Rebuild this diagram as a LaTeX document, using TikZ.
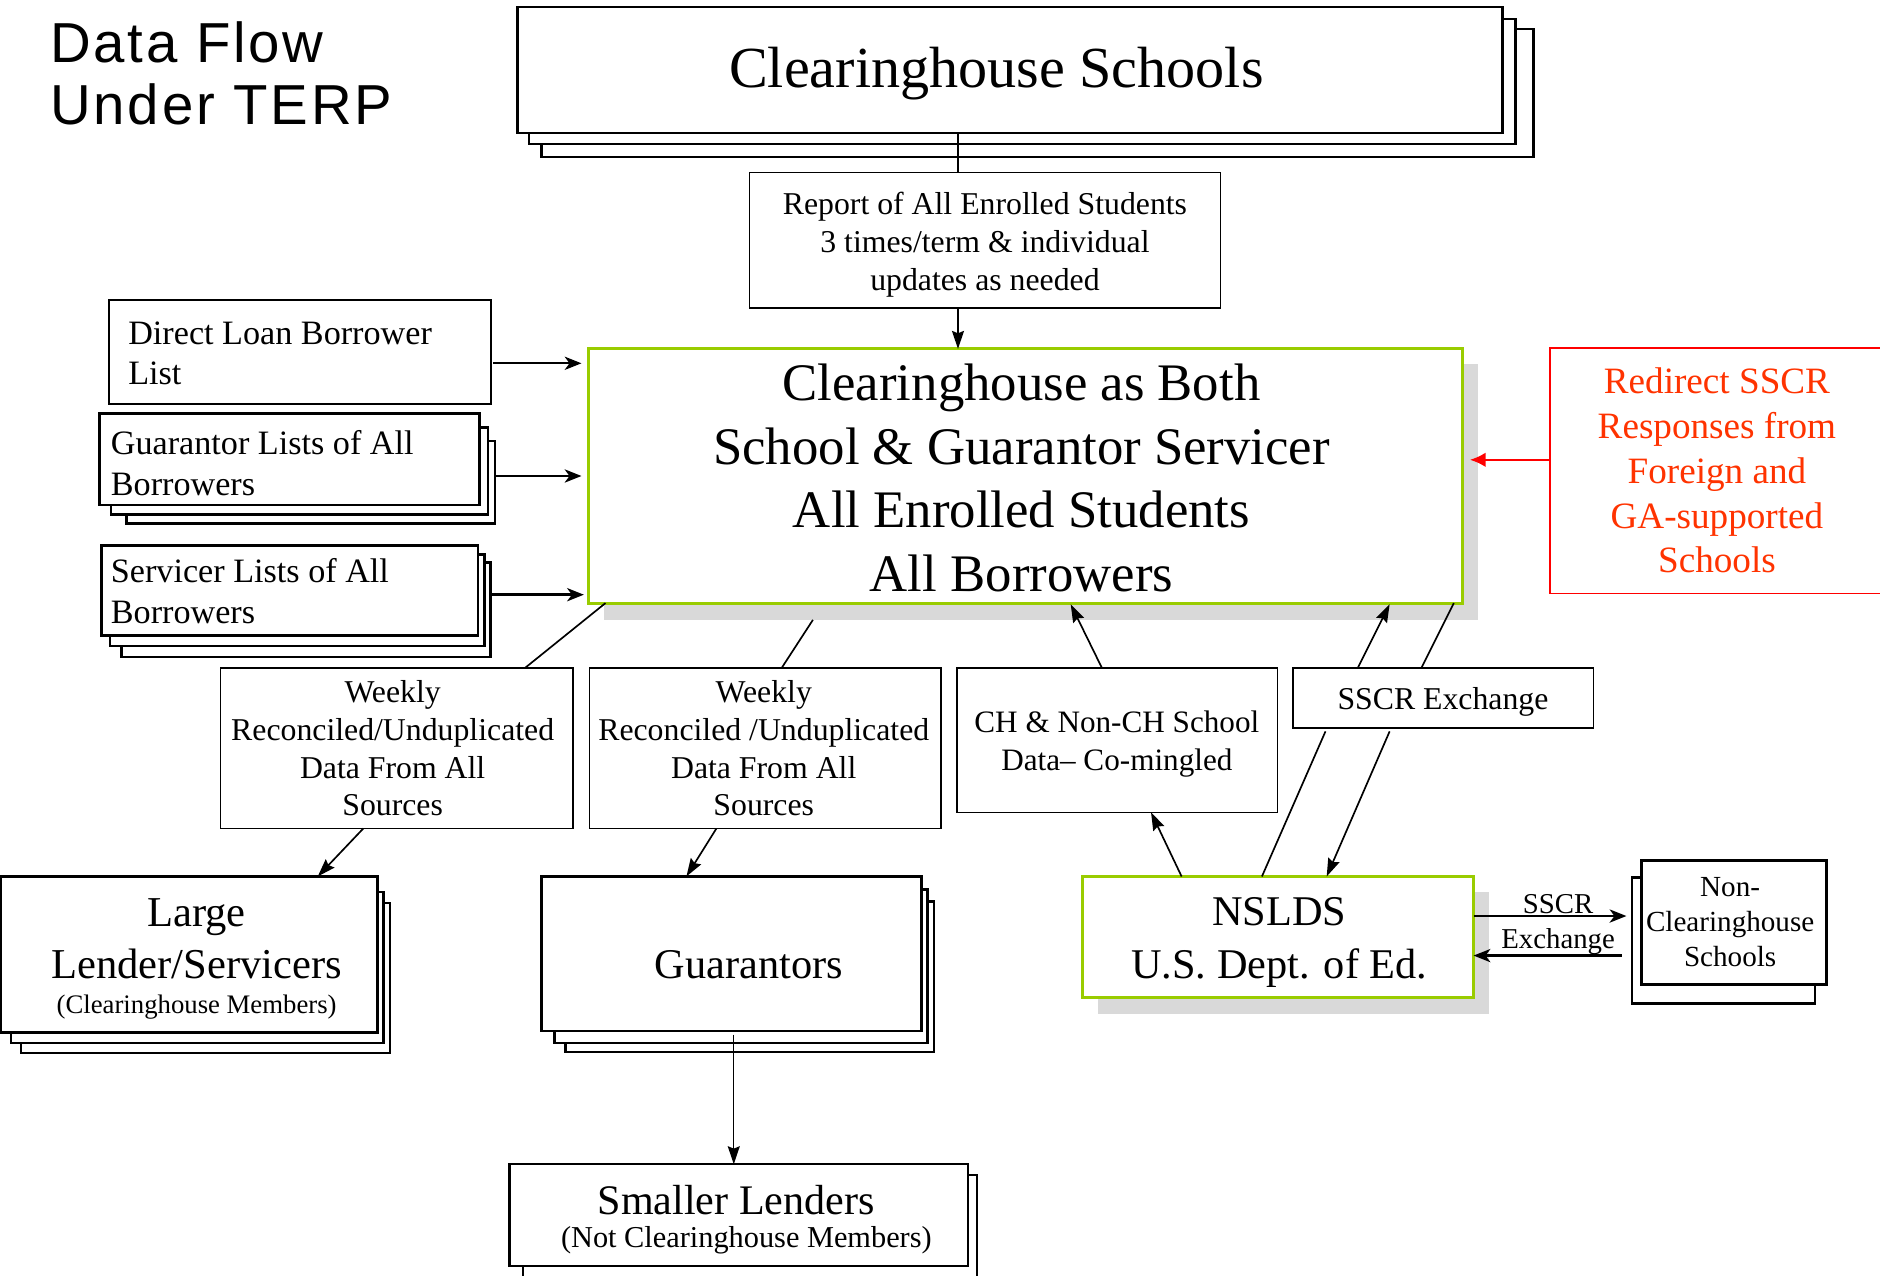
\documentclass[tikz,border=0pt]{standalone}
\usepackage{fontspec}
\setmainfont{Liberation Serif}
\newfontfamily\titlefont[LetterSpace=5]{Liberation Sans}
\usetikzlibrary{calc,arrows.meta}
\definecolor{lgreen}{RGB}{153,204,0}
\definecolor{shade}{RGB}{217,217,217}
\definecolor{redtxt}{RGB}{255,51,0}
\newcommand\fsz[2]{\fontsize{#1}{#2}\selectfont}
\newcommand\rbox[6]{\node[#1, minimum width={#4-#2}, minimum height={#5-#3}] (#6) at ({(#2+#4)/2},{(#3+#5)/2}) {};}
\tikzset{
  heavybox/.style={draw, fill=white, line width=2pt, inner sep=0pt, outer sep=0pt},
  thinbox/.style={draw, fill=white, line width=1.3pt, inner sep=0pt, outer sep=0pt},
  greenbox/.style={draw=lgreen, fill=white, line width=2.5pt, inner sep=0pt, outer sep=0pt},
  redbox/.style={draw=red, fill=white, line width=1.5pt, inner sep=0pt, outer sep=0pt},
  layer/.style={draw, fill=white, line width=2pt},
  shadowbox/.style={fill=shade},
  conn/.style={line width=1.4pt},
  arr/.style={conn, -{Stealth[length=15pt,width=10pt,inset=2pt]}},
  sidearr/.style={line width=2pt, -{Stealth[length=14pt,width=11pt,inset=4pt]}},
  redarr/.style={draw=red, line width=1.5pt, -{Latex[length=13pt,width=12pt]}, red},
  txt/.style={inner sep=0pt, outer sep=0pt}
}
\begin{document}
\begin{tikzpicture}[x=1pt,y=-1pt]
\useasboundingbox (0,0) rectangle (1568,1064);
\fill[white] (0,0) rectangle (1568,1064);

% title (anchor = baseline of last line)
\node[txt, anchor=base west, align=left, font=\titlefont\fsz{47}{52}] (title) at (42,104) {Data Flow\\Under TERP};

% Clearinghouse Schools (stacked)
\draw[layer] (451.5,24) rectangle (1279,131);
\draw[layer] (441,16) rectangle (1264,120);
\rbox{heavybox}{431.5}{6}{1253}{111}{chs}
\node[txt, anchor=base, font=\fsz{48.5}{58}] (chst) at (831,73) {Clearinghouse Schools};

% report box
\rbox{thinbox}{625}{144}{1018}{257}{report}
\node[txt, anchor=base, align=center, font=\fsz{26.5}{31.5}] (reportt) at (821.5,242) {Report of All Enrolled Students\\3 times/term \& individual\\updates as needed};

% main box
\fill[shadowbox] (504,304) rectangle (1233,517);
\rbox{greenbox}{491}{291}{1220}{503}{main}
\node[txt, anchor=base, align=center, font=\fsz{44}{53}] (maint) at (852,493) {Clearinghouse as Both\\School \& Guarantor Servicer\\All Enrolled Students\\All Borrowers};

% Direct loan
\rbox{heavybox}{91}{250}{409.5}{337}{dl}
\node[txt, anchor=base west, align=left, font=\fsz{28.5}{34}] (dlt) at (107,321) {Direct Loan Borrower\\List};

% Guarantor lists
\draw[layer] (105.5,368) rectangle (413,436.6);
\draw[layer] (92.5,356.6) rectangle (407,429);
\rbox{heavybox}{83}{345}{400}{421}{gl}
\node[txt, anchor=base west, align=left, font=\fsz{28.5}{34}] (glt) at (92.5,413) {Guarantor Lists of All\\Borrowers};

% Servicer lists
\draw[layer] (101.5,469) rectangle (409,548);
\draw[layer] (91.5,462.5) rectangle (404,539);
\rbox{heavybox}{84.5}{455}{398.5}{530}{sl}
\node[txt, anchor=base west, align=left, font=\fsz{28.5}{34}] (slt) at (92.5,520) {Servicer Lists of All\\Borrowers};

% red box
\rbox{redbox}{1292.5}{290.5}{1580}{495}{red}
\node[txt, anchor=base, align=center, text=redtxt, font=\fsz{31}{37.3}] (redt) at (1432,477.8) {Redirect SSCR\\Responses from\\Foreign and\\GA-supported\\Schools};

% weekly boxes
\rbox{thinbox}{184}{557}{478}{691}{wk1}
\node[txt, anchor=base, align=center, font=\fsz{26.5}{31.5}] (wk1t) at (327.5,680.5) {Weekly\\Reconciled/Unduplicated\\Data From All\\Sources};
\rbox{thinbox}{491.5}{557}{785}{691}{wk2}
\node[txt, anchor=base, align=center, font=\fsz{26.5}{31.5}] (wk2t) at (637,680.5) {Weekly\\Reconciled /Unduplicated\\Data From All\\Sources};

% CH & Non-CH
\rbox{thinbox}{798}{557}{1065.5}{677.5}{chnon}
\node[txt, anchor=base, align=center, font=\fsz{26}{32}] (chnont) at (931.5,643) {CH \& Non-CH School\\Data– Co-mingled};

% SSCR exchange
\rbox{thinbox}{1078.5}{557}{1329}{607}{sscr}
\node[txt, anchor=base, font=\fsz{26.5}{32}] (sscrt) at (1203.5,592) {SSCR Exchange};

% Large lender
\draw[layer] (17.5,753) rectangle (325.5,878);
\draw[layer] (9,744) rectangle (320,870);
\rbox{heavybox}{1}{731}{315}{861}{large}
\node[txt, anchor=base, align=center, font=\fsz{35.5}{43.3}] (larget) at (164,816) {Large\\Lender/Servicers};
\node[txt, anchor=base, font=\fsz{22.3}{27}] (larges) at (164,845.7) {(Clearinghouse Members)};

% Guarantors
\draw[layer] (471.5,752) rectangle (779,877.6);
\draw[layer] (462.5,742) rectangle (773.5,870);
\rbox{heavybox}{451.5}{731}{768.5}{860}{guar}
\node[txt, anchor=base, font=\fsz{35.3}{43}] (guart) at (624.5,816) {Guarantors};

% Smaller lenders
\draw[layer] (436,980) rectangle (815,1075);
\rbox{heavybox}{425}{971}{807.5}{1056}{small}
\node[txt, anchor=base, font=\fsz{35.1}{43}] (smallt) at (614,1012.7) {Smaller Lenders};
\node[txt, anchor=base, font=\fsz{25.3}{30}] (smalls) at (622.5,1040.7) {(Not Clearinghouse Members)};

% NSLDS
\fill[shadowbox] (916,744) rectangle (1242,846);
\rbox{greenbox}{903}{731}{1229}{832}{nslds}
\node[txt, anchor=base, align=center, font=\fsz{35.3}{44}] (nsldst) at (1067,816) {NSLDS\\U.S. Dept. of Ed.};

% Non-clearinghouse schools
\draw[layer] (1361,732) rectangle (1514,837);
\rbox{heavybox}{1369}{717.6}{1523.5}{821}{nonch}
\node[txt, anchor=base, align=center, font=\fsz{24.3}{29}] (noncht) at (1443,806) {Non-\\Clearinghouse\\Schools};

% exchange label
\node[txt, anchor=base, align=center, font=\fsz{24}{28.7}] (exlab) at (1299.5,791) {SSCR\\Exchange};

% connectors
\draw[conn] ($(chs.south)+(-43.25,0)$) -- ($(report.north)+(-22.5,0)$);
\draw[arr] ($(report.south)+(-22.5,0)$) -- ($(main.north)+(-56.5,0)$);
\draw[sidearr] ($(dl.east)+(2,9.5)$) -- ($(main.west)+(-6,-94)$);
\draw[sidearr] ($(gl.east)+(13,14)$) -- ($(main.west)+(-6,0)$);
\draw[sidearr] ($(sl.east)+(10.5,3.5)$) -- ($(main.west)+(-4,99)$);
\draw[redarr] ($(red.west)+(0,-9.25)$) -- ($(main.east)+(6,-13.5)$);
\draw[conn] ($(main.south west)+(14,0)$) -- ($(wk1.north west)+(254,0)$);
\draw[conn] ($(main.south west)+(187,14)$) -- ($(wk2.north west)+(160.5,0)$);
\draw[arr] ($(wk1.south west)+(119,0)$) -- ($(large.north west)+(264,0)$);
\draw[arr] ($(wk2.south west)+(106,0)$) -- ($(guar.north west)+(121,0)$);
\draw[arr, line width=1.1pt] ($(guar.south)+(2,3)$) -- ($(small.north)+(-4.25,0)$);
\draw[arr] ($(chnon.north west)+(121,0)$) -- ($(main.south west)+(402,1)$);
\draw[arr] ($(sscr.north west)+(54,0)$) -- ($(main.south west)+(668,1)$);
\draw[conn] ($(main.south east)+(-7.5,0)$) -- ($(sscr.north west)+(107,0)$);
\draw[conn] ($(sscr.south west)+(27,3)$) -- ($(nslds.north west)+(149.5,0)$);
\draw[arr] ($(sscr.south west)+(80.5,3)$) -- ($(nslds.north west)+(203.5,0)$);
\draw[arr] ($(nslds.north west)+(82.5,0)$) -- ($(chnon.south west)+(162,0)$);
\draw[sidearr] ($(nslds.east)+(0,-17.5)$) -- ($(nonch.west)+(-12.5,-5.3)$);
\draw[sidearr] ($(nonch.west)+(-16.5,27.7)$) -- ($(nslds.east)+(0,15.5)$);
\end{tikzpicture}
\end{document}
